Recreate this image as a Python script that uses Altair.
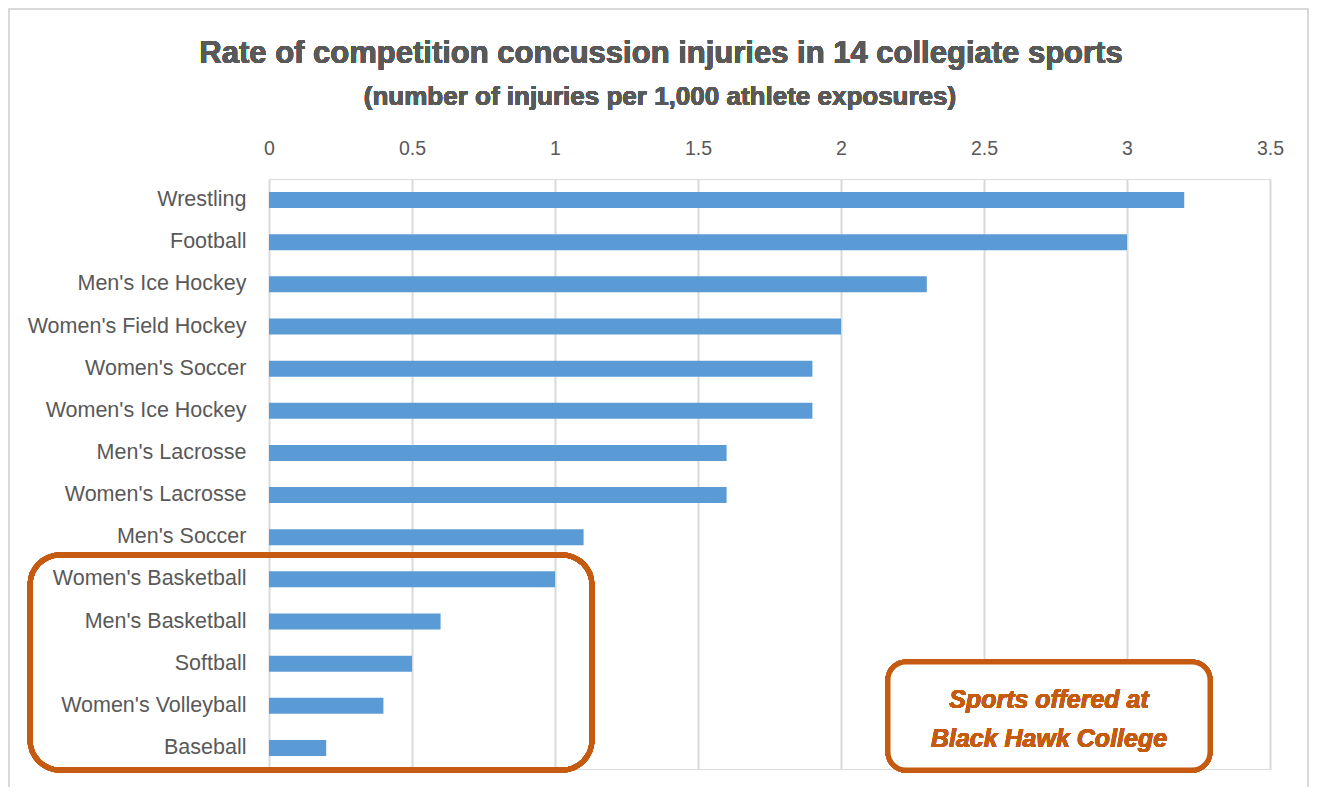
import altair as alt
import pandas as pd

sports = ["Wrestling", "Football", "Men's Ice Hockey", "Women's Field Hockey",
          "Women's Soccer", "Women's Ice Hockey", "Men's Lacrosse", "Women's Lacrosse",
          "Men's Soccer", "Women's Basketball", "Men's Basketball", "Softball",
          "Women's Volleyball", "Baseball"]
rates = [3.2, 3.0, 2.3, 2.0, 1.9, 1.9, 1.6, 1.6, 1.1, 1.0, 0.6, 0.5, 0.4, 0.2]
x_ticks = [0, 0.5, 1, 1.5, 2, 2.5, 3, 3.5]
title_text = "Rate of competition concussion injuries in 14 collegiate sports"
subtitle_text = "(number of injuries per 1,000 athlete exposures)"
note_lines = ["Sports offered at", "Black Hawk College"]

df = pd.DataFrame({"sport": sports, "rate": rates})

W, H = 1001, 590
GRAY = "#595959"
ORANGE = "#C55A11"
FONT = "Liberation Sans"

bars = alt.Chart(df).mark_bar(color="#5B9BD5").encode(
    x=alt.X("rate:Q",
            scale=alt.Scale(domain=[0, 3.5], nice=False),
            axis=alt.Axis(orient="top", values=x_ticks, title=None, grid=True,
                          gridColor="#D9D9D9", gridWidth=2, domain=False, ticks=False,
                          labelFont=FONT, labelFontSize=19.5, labelColor=GRAY,
                          labelPadding=21, labelFlush=False,
                          labelExpr="datum.value")),
    y=alt.Y("sport:N", sort=sports,
            scale=alt.Scale(paddingInner=0.62, paddingOuter=0.31),
            axis=alt.Axis(title=None, domain=False, ticks=False, labelFont=FONT,
                          labelFontSize=21.5, labelColor=GRAY, labelPadding=23,
                          labelLimit=0)),
)

border = alt.Chart(df).mark_rect(fill=None, stroke="#D9D9D9", strokeWidth=2).encode(
    x=alt.value(-260), x2=alt.value(W + 38), y=alt.value(-170), y2=alt.value(H + 40)
)

title = alt.Chart(df).mark_text(font=FONT, fontSize=31, fontWeight="bold", color=GRAY,
                                align="center", baseline="alphabetic").encode(
    x=alt.value(392), y=alt.value(-116), text=alt.value(title_text)
)

subtitle = alt.Chart(df).mark_text(font=FONT, fontSize=26, fontWeight="bold", color=GRAY,
                                   align="center", baseline="alphabetic").encode(
    x=alt.value(391), y=alt.value(-74), text=alt.value(subtitle_text)
)

left_box = alt.Chart(df).mark_rect(fill=None, stroke=ORANGE, strokeWidth=5,
                                   cornerRadius=30).encode(
    x=alt.value(-239), x2=alt.value(323), y=alt.value(376), y2=alt.value(591)
)

right_box = alt.Chart(df).mark_rect(fill="white", stroke=ORANGE, strokeWidth=5,
                                    cornerRadius=18).encode(
    x=alt.value(619), x2=alt.value(941), y=alt.value(483), y2=alt.value(591)
)

note = alt.Chart(df).mark_text(font=FONT, fontSize=25, fontWeight="bold",
                               fontStyle="italic", color=ORANGE, align="center",
                               baseline="middle", lineHeight=39).encode(
    x=alt.value(780), y=alt.value(521),
    text=alt.value(note_lines)
)

chart = alt.layer(bars, border, title, subtitle, left_box, right_box, note).properties(
    width=W, height=H,
    autosize=alt.AutoSizeParams(type="none"),
    padding={"left": 261, "top": 171, "right": 39, "bottom": 18},
).configure_view(strokeOpacity=0).configure(background="white")

chart.save("out.html", embed_options={"renderer": "svg", "actions": False})
